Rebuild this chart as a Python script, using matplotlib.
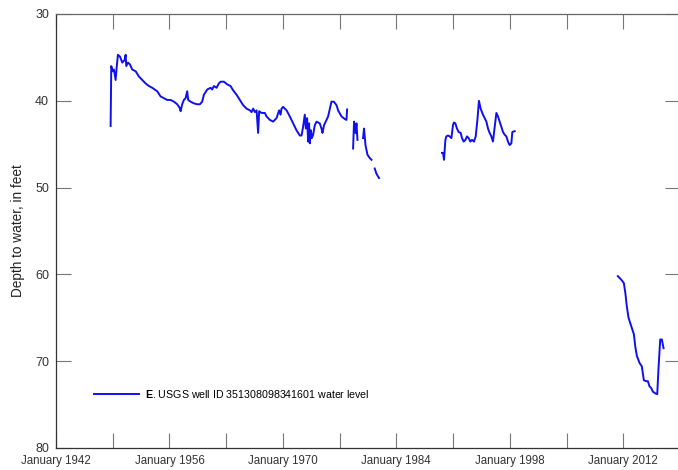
import numpy as np
import matplotlib
matplotlib.use("Agg")
import matplotlib.pyplot as plt

plt.rcParams['font.family'] = ['Liberation Sans', 'DejaVu Sans']
plt.rcParams['mathtext.fontset'] = 'custom'
plt.rcParams['mathtext.bf'] = 'Liberation Sans:bold'
plt.rcParams['mathtext.rm'] = 'Liberation Sans'

# ---- data (decimal year, depth to water in feet); NaN separates gaps ----
seg1_years = [1948.74, 1948.82, 1948.99, 1949.15, 1949.36, 1949.48, 1949.64, 1949.89, 1950.18, 1950.47,
              1950.59, 1950.67, 1950.88, 1951.12, 1951.41, 1951.83, 1952.23, 1952.64, 1953.06, 1953.47,
              1953.87, 1954.49, 1954.91, 1955.32, 1955.72, 1956.14, 1956.55, 1956.96, 1957.25, 1957.38,
              1957.57, 1957.78, 1957.99, 1958.19, 1958.31, 1958.61, 1959.02, 1959.42, 1959.76, 1960.04,
              1960.25, 1960.66, 1961.08, 1961.27, 1961.48, 1961.81, 1962.10, 1962.31, 1962.72, 1963.12,
              1963.54, 1963.86, 1964.28, 1964.69, 1965.09, 1965.51, 1965.92, 1966.13, 1966.33, 1966.54,
              1966.75, 1966.94, 1967.07, 1967.36, 1967.77, 1967.98, 1968.39, 1968.79, 1969.21, 1969.53,
              1969.71, 1969.83, 1970.03, 1970.45, 1970.85, 1971.26, 1971.68, 1972.09, 1972.30, 1972.49,
              1972.70, 1972.83, 1972.99, 1973.11, 1973.23, 1973.32, 1973.44, 1973.57, 1973.73, 1973.94,
              1974.15, 1974.55, 1974.76, 1974.88, 1975.08, 1975.38, 1975.58, 1975.79, 1975.99, 1976.28,
              1976.61, 1976.81, 1977.23, 1977.64, 1977.84, 1977.92]
seg1_depth = [42.9, 36.0, 36.6, 36.4, 37.6, 36.2, 34.7, 34.9, 35.6, 35.3,
              34.7, 36.0, 35.6, 35.8, 36.4, 36.6, 37.2, 37.6, 38.0, 38.3,
              38.5, 38.9, 39.5, 39.7, 39.9, 39.9, 40.1, 40.4, 40.8, 41.2,
              40.4, 39.9, 39.7, 38.9, 39.9, 40.1, 40.3, 40.4, 40.4, 40.1,
              39.3, 38.7, 38.5, 38.7, 38.3, 38.5, 38.0, 37.8, 37.8, 38.1,
              38.3, 38.8, 39.3, 39.9, 40.5, 40.9, 41.1, 41.3, 40.9, 41.3,
              41.1, 43.7, 41.2, 41.4, 41.4, 41.8, 42.2, 42.4, 42.0, 41.1,
              41.6, 40.9, 40.7, 41.1, 41.8, 42.6, 43.4, 44.0, 44.0, 43.0,
              41.6, 43.2, 42.0, 44.7, 42.6, 44.9, 43.4, 44.3, 43.9, 42.8,
              42.4, 42.6, 43.2, 43.7, 42.8, 42.2, 41.8, 40.9, 40.1, 40.1,
              40.5, 41.1, 41.8, 42.1, 42.2, 41.0]

seg2_years = [1978.66, 1978.78, 1978.95, 1979.08, 1979.20]
seg2_depth = [45.5, 42.4, 43.7, 42.6, 44.5]

seg3_years = [1979.89, 1980.01, 1980.19, 1980.43, 1980.72, 1980.93]
seg3_depth = [44.3, 43.2, 45.1, 46.2, 46.6, 46.8]

seg4_years = [1981.33, 1981.54, 1981.74, 1981.86]
seg4_depth = [47.8, 48.4, 48.7, 48.9]

seg5_years = [1989.63, 1989.76, 1989.88, 1990.05, 1990.17, 1990.37, 1990.58, 1990.79, 1990.99, 1991.11,
              1991.28, 1991.48, 1991.69, 1991.94, 1992.10, 1992.31, 1992.52, 1992.72, 1992.92, 1993.13,
              1993.33, 1993.58, 1993.79, 1994.00, 1994.19, 1994.40, 1994.69, 1994.90, 1995.11, 1995.31,
              1995.51, 1995.72, 1995.92, 1996.13, 1996.34, 1996.54, 1996.75, 1996.96, 1997.16, 1997.36,
              1997.57, 1997.77, 1997.98, 1998.19, 1998.31, 1998.60]
seg5_depth = [46.0, 46.0, 46.8, 44.5, 44.1, 44.0, 44.1, 44.3, 42.8, 42.5,
              42.6, 43.2, 43.6, 43.7, 44.3, 44.7, 44.5, 44.1, 44.3, 44.7,
              44.5, 44.7, 44.1, 42.2, 40.0, 40.9, 41.6, 42.0, 42.4, 43.2,
              43.7, 44.1, 44.7, 43.0, 41.4, 41.8, 42.4, 43.0, 43.6, 43.9,
              44.1, 44.7, 45.1, 44.9, 43.6, 43.5]

seg6_years = [2011.33, 2011.54, 2011.83, 2012.07, 2012.25, 2012.44, 2012.65, 2012.99, 2013.31, 2013.48,
              2013.68, 2014.01, 2014.29, 2014.54, 2014.83, 2015.03, 2015.24, 2015.45, 2015.65, 2015.94,
              2016.19, 2016.35, 2016.56, 2016.76, 2016.97]
seg6_depth = [60.2, 60.4, 60.7, 61.0, 62.1, 63.7, 65.0, 66.0, 66.9, 68.3,
              69.4, 70.2, 70.6, 72.2, 72.3, 72.3, 72.9, 73.1, 73.5, 73.7,
              73.8, 70.8, 67.5, 67.5, 68.5]

segments_years = [seg1_years, seg2_years, seg3_years, seg4_years, seg5_years, seg6_years]
segments_depth = [seg1_depth, seg2_depth, seg3_depth, seg4_depth, seg5_depth, seg6_depth]

tick_years = list(range(1942, 2020, 7))
tick_labels = ["January %d" % y if (y - 1942) % 14 == 0 else "" for y in tick_years]
y_ticks = [30, 40, 50, 60, 70, 80]
series_label = r"$\mathbf{E}$. USGS well ID 351308098341601 water level"

# ---- assemble series with gaps ----
xs, ys = [], []
for sx, sy in zip(segments_years, segments_depth):
    xs.extend(sx + [np.nan])
    ys.extend(sy + [np.nan])

W, H = 678, 470
fig = plt.figure(figsize=(W / 100, H / 100), dpi=100)
left_px, right_px, top_px, bottom_px = 56, 680, 14, 448
ax = fig.add_axes([left_px / W, 1 - bottom_px / H, (right_px - left_px) / W, (bottom_px - top_px) / H])

line, = ax.plot(xs, ys, color='#1010ee', lw=1.4, label=series_label)

px_per_year = 8.11
ax.set_xlim(1942, 1942 + (right_px - left_px) / px_per_year)
ax.set_ylim(80, 30)

ax.set_xticks(tick_years)
ax.set_xticklabels(tick_labels, fontsize=8.3, color='#333333')
ax.set_yticks(y_ticks)
ax.set_yticklabels([str(v) for v in y_ticks], fontsize=9, color='#333333')
ax.tick_params(axis='both', direction='in', length=10.5, width=0.8, color='#777777',
               top=True, right=True, pad=5)

for s in ax.spines.values():
    s.set_color('#666666')
    s.set_linewidth(0.9)
ax.spines['left'].set_color('#333333')
ax.spines['bottom'].set_color('#333333')

ax.set_ylabel("Depth to water, in feet", fontsize=9.8, color='#222222', labelpad=7)

fig.legend(handles=[line], loc='center left',
           bbox_to_anchor=(94 / W, 1 - 394 / H), bbox_transform=fig.transFigure,
           frameon=False, fontsize=7.7, handlelength=4.2, handletextpad=0.6,
           borderpad=0, borderaxespad=0)

fig.savefig("out.png", dpi=100)
